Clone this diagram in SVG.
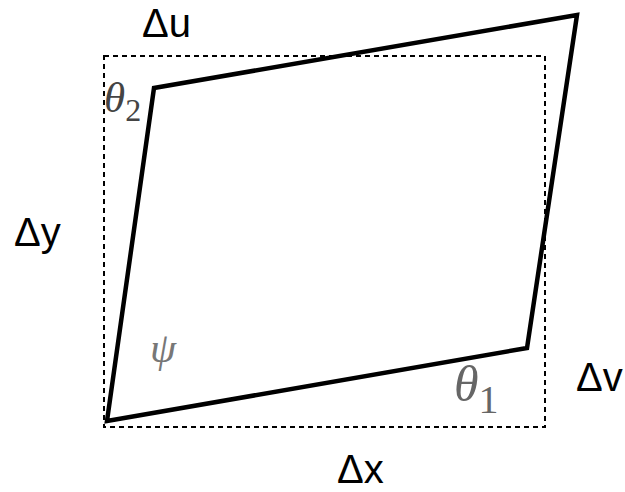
<svg xmlns="http://www.w3.org/2000/svg" width="625" height="492" viewBox="0 0 625 492">
<style>
.lbl{font-family:"Liberation Sans",Arial,sans-serif;font-size:40px;fill:#000}
.gr{font-family:"Liberation Serif","Times New Roman",serif;font-style:italic}
.sub{font-style:normal}
</style>
<rect width="625" height="492" fill="#fff"/>
<g id="connectors">
<rect id="frame" x="104" y="56" width="441" height="371" fill="none" stroke="#000" stroke-width="2" stroke-dasharray="5,4"/>
<polygon id="shape" points="107,421 154,88 577,15 527,348" fill="none" stroke="#000" stroke-width="4.5" stroke-linejoin="miter"/>
</g>
<g id="du"><text class="lbl" x="142" y="37">Δu</text></g>
<g id="dy"><text class="lbl" x="14" y="246">Δy</text></g>
<g id="dv"><text class="lbl" x="576" y="391">Δv</text></g>
<g id="dx"><text class="lbl" x="337" y="483">Δx</text></g>
<g id="theta2"><text class="gr" x="104" y="112" font-size="43" fill="#444">θ<tspan class="sub" font-size="32" dy="9">2</tspan></text></g>
<g id="psi"><text class="gr" x="150" y="362" font-size="42" fill="#777">ψ</text></g>
<g id="theta1"><text class="gr" x="454" y="401" font-size="50" fill="#666">θ<tspan class="sub" font-size="40" dy="12">1</tspan></text></g>
</svg>
